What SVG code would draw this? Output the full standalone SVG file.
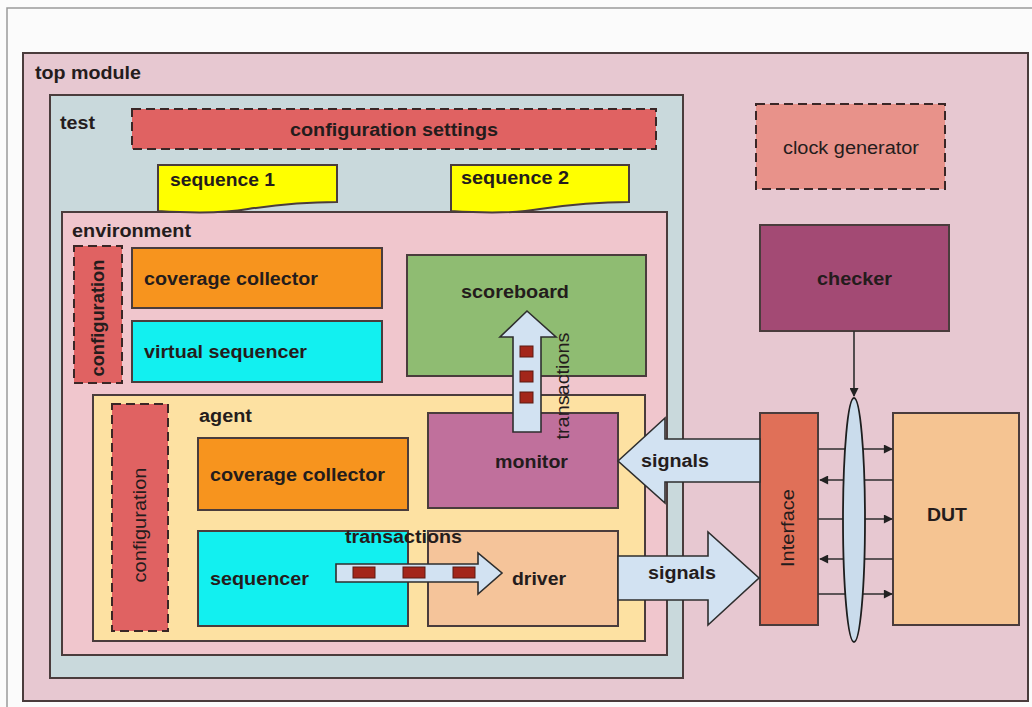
<svg xmlns="http://www.w3.org/2000/svg" width="1032" height="707" viewBox="0 0 1032 707">
  <defs>
    <style>
      .box { stroke: #4a3c3c; stroke-width: 2; }
      .dash { stroke: #3a2626; stroke-width: 2; stroke-dasharray: 9 5; }
      .lbl { font-family: "Liberation Sans", Arial, sans-serif; font-size: 18px; font-weight: bold; fill: #241c1c; }
      .reg { font-family: "Liberation Sans", Arial, sans-serif; font-size: 18px; fill: #241c1c; }
      .pipe { fill: #d2e2f2; stroke: #2e2e2e; stroke-width: 1.6; stroke-linejoin: miter; }
      .tok { fill: #a3261a; stroke: #5a1a12; stroke-width: 1; }
      .bus { stroke: #2e2e2e; stroke-width: 1.6; fill: none; }
    </style>
    <marker id="headL" viewBox="0 0 10 10" refX="9" refY="5" markerWidth="10" markerHeight="9" markerUnits="userSpaceOnUse" orient="auto">
      <path d="M0,0 L10,5 L0,10 Z" fill="#222"/>
    </marker>
  </defs>

  <!-- page -->
  <rect x="0" y="0" width="1032" height="707" fill="#fbfbfb"/>
  <path d="M7,707 V8 H1032" fill="none" stroke="#9a9a9a" stroke-width="1.5"/>

  <g id="top-module">
    <rect class="box" x="23" y="53" width="1005" height="648" fill="#e7c8d1"/>
    <text class="lbl" x="35" y="79" textLength="106" lengthAdjust="spacingAndGlyphs">top module</text>
  </g>

  <g id="test">
    <rect class="box" x="50" y="95" width="633" height="583" fill="#c9d9dc"/>
    <text class="lbl" x="60" y="129" textLength="35" lengthAdjust="spacingAndGlyphs">test</text>
  </g>

  <g id="configuration-settings">
    <rect class="dash" x="132" y="109" width="524" height="40" fill="#e06262"/>
    <text class="lbl" x="290" y="136" textLength="208" lengthAdjust="spacingAndGlyphs">configuration settings</text>
  </g>

  <g id="environment">
    <rect class="box" x="62" y="212" width="605" height="443" fill="#f0c6cd"/>
    <text class="lbl" x="72" y="237" textLength="119" lengthAdjust="spacingAndGlyphs">environment</text>
  </g>

  <g id="sequence-1">
    <path class="box" d="M158,165 H337 V202 C305,202 275,205 248,209 C220,214 190,213 158,211 Z" fill="#ffff00"/>
    <text class="lbl" x="170" y="186" textLength="105" lengthAdjust="spacingAndGlyphs">sequence 1</text>
  </g>

  <g id="sequence-2">
    <path class="box" d="M451,165 H629 V202 C597,202 567,205 540,209 C512,214 482,213 451,211 Z" fill="#ffff00"/>
    <text class="lbl" x="461" y="184" textLength="108" lengthAdjust="spacingAndGlyphs">sequence 2</text>
  </g>

  <g id="env-configuration">
    <rect class="dash" x="74" y="246" width="48" height="137" fill="#e06262"/>
    <text class="lbl" transform="translate(104,318) rotate(-90)" text-anchor="middle" textLength="117" lengthAdjust="spacingAndGlyphs">configuration</text>
  </g>

  <g id="env-coverage-collector">
    <rect class="box" x="132" y="248" width="250" height="60" fill="#f7941e"/>
    <text class="lbl" x="144" y="285" textLength="174" lengthAdjust="spacingAndGlyphs">coverage collector</text>
  </g>

  <g id="virtual-sequencer">
    <rect class="box" x="132" y="321" width="250" height="61" fill="#12f0f0"/>
    <text class="lbl" x="144" y="358" textLength="163" lengthAdjust="spacingAndGlyphs">virtual sequencer</text>
  </g>

  <g id="scoreboard">
    <rect class="box" x="407" y="255" width="239" height="121" fill="#8fbc72"/>
    <text class="lbl" x="461" y="298" textLength="108" lengthAdjust="spacingAndGlyphs">scoreboard</text>
  </g>

  <g id="agent">
    <rect class="box" x="93" y="395" width="552" height="246" fill="#fde1a2"/>
    <text class="lbl" x="199" y="422" textLength="53" lengthAdjust="spacingAndGlyphs">agent</text>
  </g>

  <g id="agent-configuration">
    <rect class="dash" x="112" y="404" width="56" height="227" fill="#e06262"/>
    <text class="reg" transform="translate(146,525) rotate(-90)" text-anchor="middle" textLength="115" lengthAdjust="spacingAndGlyphs">configuration</text>
  </g>

  <g id="agent-coverage-collector">
    <rect class="box" x="198" y="438" width="210" height="72" fill="#f7941e"/>
    <text class="lbl" x="210" y="481" textLength="175" lengthAdjust="spacingAndGlyphs">coverage collector</text>
  </g>

  <g id="sequencer">
    <rect class="box" x="198" y="531" width="210" height="95" fill="#12f0f0"/>
    <text class="lbl" x="210" y="585" textLength="99" lengthAdjust="spacingAndGlyphs">sequencer</text>
  </g>

  <g id="monitor">
    <rect class="box" x="428" y="413" width="190" height="95" fill="#c0709c"/>
    <text class="lbl" x="495" y="468" textLength="73" lengthAdjust="spacingAndGlyphs">monitor</text>
  </g>

  <g id="driver">
    <rect class="box" x="428" y="531" width="190" height="95" fill="#f5c49a"/>
    <text class="lbl" x="512" y="585" textLength="54" lengthAdjust="spacingAndGlyphs">driver</text>
  </g>

  <g id="clock-generator">
    <rect class="dash" x="756" y="104" width="189" height="85" fill="#e8928a"/>
    <text class="reg" x="783" y="154" textLength="136" lengthAdjust="spacingAndGlyphs">clock generator</text>
  </g>

  <g id="checker">
    <rect class="box" x="760" y="225" width="189" height="106" fill="#a34a74"/>
    <text class="lbl" x="817" y="285" textLength="75" lengthAdjust="spacingAndGlyphs">checker</text>
  </g>

  <g id="interface">
    <rect class="box" x="760" y="413" width="58" height="212" fill="#e07058"/>
    <text class="reg" transform="translate(794,528) rotate(-90)" text-anchor="middle" textLength="78" lengthAdjust="spacingAndGlyphs">Interface</text>
  </g>

  <g id="dut">
    <rect class="box" x="893" y="413" width="126" height="212" fill="#f5c492"/>
    <text class="lbl" x="927" y="521" textLength="40" lengthAdjust="spacingAndGlyphs">DUT</text>
  </g>

  <g id="connectors">
    <!-- monitor to scoreboard -->
    <path class="pipe" d="M527,311 L556,337 L541,337 L541,432 L513,432 L513,337 L500,337 Z"/>
    <rect class="tok" x="520" y="346" width="13" height="11"/>
    <rect class="tok" x="520" y="371" width="13" height="11"/>
    <rect class="tok" x="520" y="392" width="13" height="11"/>
    <text class="reg" transform="translate(569,386) rotate(-90)" text-anchor="middle" textLength="107" lengthAdjust="spacingAndGlyphs">transactions</text>

    <!-- sequencer to driver -->
    <path class="pipe" d="M336,564 L478,564 L478,553 L502,573 L478,594 L478,582 L336,582 Z"/>
    <rect class="tok" x="353" y="567" width="22" height="11"/>
    <rect class="tok" x="403" y="567" width="22" height="11"/>
    <rect class="tok" x="453" y="567" width="22" height="11"/>
    <text class="lbl" x="345" y="543" textLength="117" lengthAdjust="spacingAndGlyphs">transactions</text>

    <!-- interface to monitor -->
    <path class="pipe" d="M618,461 L665,418 L665,439 L760,439 L760,482 L665,482 L665,503 Z"/>
    <text class="lbl" x="641" y="467" textLength="68" lengthAdjust="spacingAndGlyphs">signals</text>

    <!-- driver to interface -->
    <path class="pipe" d="M618,556 L708,556 L708,532 L759,578 L708,625 L708,600 L618,600 Z"/>
    <text class="lbl" x="648" y="579" textLength="68" lengthAdjust="spacingAndGlyphs">signals</text>

    <!-- interface / DUT wires -->
    <line class="bus" x1="818" y1="449" x2="892" y2="449" marker-end="url(#headL)"/>
    <line class="bus" x1="893" y1="480" x2="820" y2="480" marker-end="url(#headL)"/>
    <line class="bus" x1="818" y1="519" x2="892" y2="519" marker-end="url(#headL)"/>
    <line class="bus" x1="893" y1="559" x2="820" y2="559" marker-end="url(#headL)"/>
    <line class="bus" x1="818" y1="594" x2="892" y2="594" marker-end="url(#headL)"/>

    <!-- checker taps the bus -->
    <line class="bus" x1="854" y1="331" x2="854" y2="396" marker-end="url(#headL)"/>
    <ellipse cx="854" cy="520" rx="11" ry="122" fill="#cadcec" stroke="#1e1e1e" stroke-width="1.8"/>
  </g>
</svg>
